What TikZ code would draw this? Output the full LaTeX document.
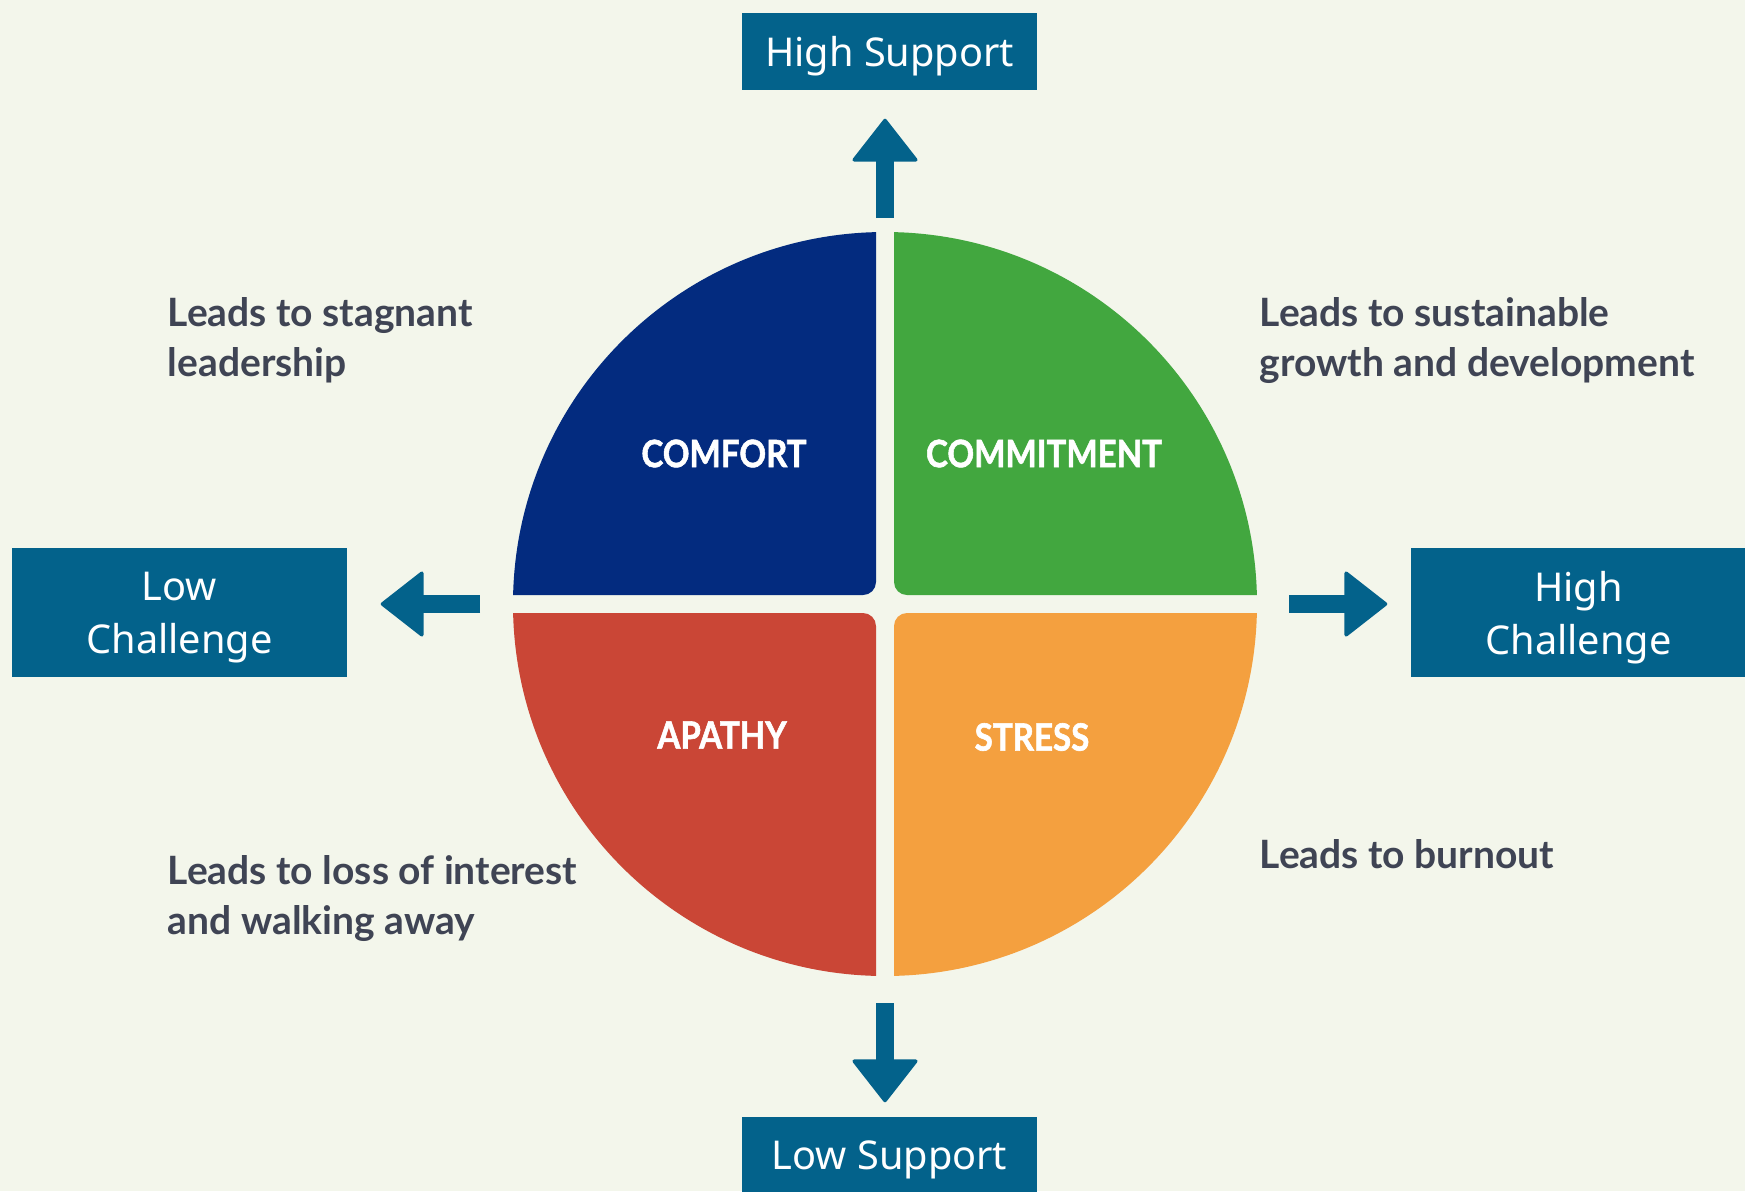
\documentclass[tikz,border=0pt]{standalone}
\usepackage{fontspec}
\setmainfont{Lato}
\newfontfamily\boxfont{Noto Sans}
\newfontfamily\quadfont{Lato}[BoldFeatures={FakeBold=1.6}]
\usetikzlibrary{arrows.meta, positioning, calc}
\definecolor{paper}{HTML}{F3F6EB}
\definecolor{axisblue}{HTML}{03628B}
\definecolor{comfortblue}{HTML}{032B7F}
\definecolor{commitgreen}{HTML}{42A73F}
\definecolor{apathyred}{HTML}{CA4636}
\definecolor{stressorange}{HTML}{F4A03F}
\definecolor{notegray}{HTML}{3F4454}
\newcommand{\squeeze}[1]{\scalebox{0.88}[1]{#1}}
\tikzset{
	axisbox/.style={
			rectangle,
			fill=axisblue,
			text=white,
			font=\boxfont\fontsize{11.3}{15.1}\selectfont,
			align=center,
			text depth=0pt,
			inner sep=0pt
		},
	supportbox/.style={
			axisbox,
			minimum width=2.95cm,
			minimum height=0.77cm
		},
	challengebox/.style={
			axisbox,
			minimum width=3.35cm,
			minimum height=1.29cm
		},
	quadlabel/.style={
			text=white,
			font=\quadfont\bfseries\fontsize{10.7}{12}\selectfont,
			inner sep=0pt
		},
	note/.style={
			text=notegray,
			font=\bfseries\fontsize{11.1}{14.2}\selectfont,
			align=left,
			anchor=base west,
			inner sep=0pt
		},
	blockarrow/.style={
			draw=axisblue,
			line width=0.18cm,
			-{Triangle[width=0.68cm, length=0.44cm, line width=1pt, round]}
		}
}

\begin{document}
\begin{tikzpicture}
\useasboundingbox (0,0) rectangle (17.45,-11.91);
\fill[paper] (0,0) rectangle (17.45,-11.91);

\coordinate (hub) at (8.85,-6.04);
\begin{scope}
\clip (hub) circle (3.72);
\fill[comfortblue, rounded corners=0.13cm] (8.76,-5.95) rectangle (4,-1);
\fill[commitgreen, rounded corners=0.13cm] (8.94,-5.95) rectangle (13,-1);
\fill[apathyred, rounded corners=0.13cm] (8.76,-6.13) rectangle (4,-11);
\fill[stressorange, rounded corners=0.13cm] (8.94,-6.13) rectangle (13,-11);
\end{scope}

\node[quadlabel] (comfort) at (7.24,-4.535) {\squeeze{COMFORT}};
\node[quadlabel] (commitment) at (10.44,-4.535) {\squeeze{COMMITMENT}};
\node[quadlabel] (apathy) at (7.22,-7.35) {\squeeze{APATHY}};
\node[quadlabel] (stress) at (10.32,-7.37) {\squeeze{STRESS}};

\node[supportbox] (highsup) at (8.895,-0.515) {High Support};
\node[supportbox] (lowsup) at (8.895,-11.555) {Low Support};
\node[challengebox] (lowchal) at (1.795,-6.125) {Low\\Challenge};
\node[challengebox] (highchal) at (15.785,-6.125) {High\\Challenge};

\draw[blockarrow, shorten <=3.86cm, shorten >=0.28cm] (hub) -- (hub |- highsup.south);
\draw[blockarrow, shorten <=3.99cm, shorten >=0.14cm] (hub) -- (hub |- lowsup.north);
\draw[blockarrow, shorten <=4.05cm, shorten >=0.33cm] (hub) -- (hub -| lowchal.east);
\draw[blockarrow, shorten <=4.04cm, shorten >=0.23cm] (hub) -- (hub -| highchal.west);

\node[note] (stagnant) at (1.67,-3.76) {Leads to stagnant\\leadership};
\node[note] (growth) at (12.59,-3.76) {Leads to sustainable\\growth and development};
\node[note] (interest) at (1.67,-9.34) {Leads to loss of interest\\and walking away};
\node[note] (burnout) at (12.59,-8.68) {Leads to burnout};
\end{tikzpicture}
\end{document}
